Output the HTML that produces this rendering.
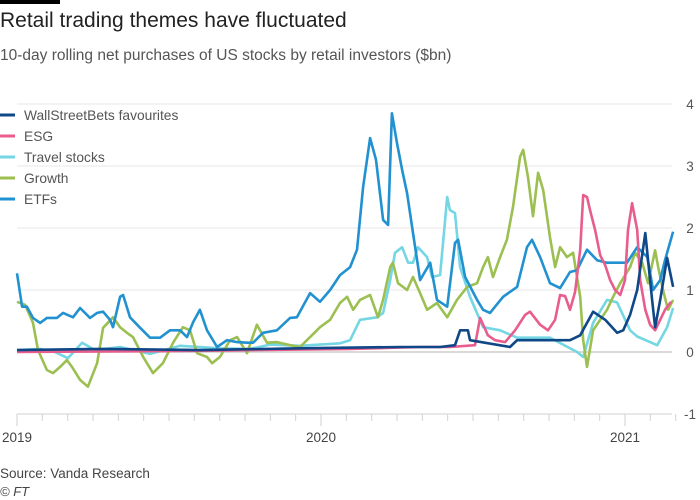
<!DOCTYPE html>
<html><head><meta charset="utf-8">
<style>
body{margin:0;background:#fff;font-family:"Liberation Sans",sans-serif;}
#wrap{position:relative;width:700px;height:500px;overflow:hidden;background:#fff;}
.t{position:absolute;white-space:nowrap;}
</style></head>
<body>
<div id="wrap">
<div style="position:absolute;left:0;top:0;width:60px;height:4px;background:#000"></div>
<div class="t" style="left:0;top:9px;font-size:21px;color:#222">Retail trading themes have fluctuated</div>
<div class="t" style="left:0;top:47px;font-size:15.5px;color:#555">10-day rolling net purchases of US stocks by retail investors ($bn)</div>
<svg id="chart" width="700" height="500" style="position:absolute;left:0;top:0"></svg>
<div class="t" style="left:0;top:466px;font-size:13.5px;color:#444">Source: Vanda Research</div>
<div class="t" style="left:0;top:484px;font-size:13px;color:#444;font-style:italic">© FT</div>
</div>
<script>
// months since Jan 2019, values in $bn
const yTicks=[4,3,2,1,0,-1];
const xYears=["2019","2020","2021"];
const wsbM=[0,3.28,7.22,11.17,15.12,16.7,17.29,17.49,17.8,17.88,19.46,19.74,21.83,22.23,22.74,23.22,23.69,23.93,24.2,24.48,24.8,25.07,25.19,25.39,25.66,25.9];
const wsbV=[0.03,0.05,0.03,0.06,0.08,0.08,0.11,0.35,0.35,0.19,0.08,0.19,0.19,0.27,0.65,0.52,0.31,0.35,0.6,1.0,1.92,0.84,0.4,0.84,1.52,1.05];
const esgM=[0,7.22,13.15,15.91,17.09,18.08,18.28,18.59,18.87,19.27,19.66,20.06,20.25,20.65,20.96,21.24,21.44,21.64,21.83,22.03,22.23,22.35,22.5,22.62,22.82,23.02,23.22,23.41,23.61,23.81,24.0,24.12,24.28,24.48,24.6,24.8,24.99,25.19,25.39,25.58,25.82];
const esgV=[0,0.02,0.05,0.08,0.08,0.11,0.55,0.27,0.19,0.16,0.35,0.6,0.65,0.44,0.35,0.52,0.92,0.9,0.68,0.97,1.65,2.53,2.5,2.29,1.97,1.56,1.4,1.16,1.0,0.92,1.16,1.97,2.4,1.97,1.16,0.68,0.44,0.35,0.52,0.68,0.81];
const travelM=[0,0.91,1.5,2.01,2.57,3.08,4.07,5.25,6.44,8.01,9.2,9.99,11.17,12.75,13.15,13.54,14.21,14.45,14.73,14.92,15.2,15.44,15.63,15.83,16.19,16.38,16.7,16.98,17.09,17.29,17.49,17.88,18.4,19.07,19.74,21.04,22.11,22.35,22.74,23.29,23.69,24.2,24.48,25.27,25.66,25.9];
const travelV=[0.03,0.05,0,-0.1,0.15,0.03,0.08,-0.03,0.1,0.06,0.05,0.12,0.1,0.14,0.19,0.52,0.56,0.63,1.16,1.6,1.69,1.44,1.44,1.69,1.53,1.21,1.24,2.5,2.29,2.24,1.37,0.89,0.4,0.35,0.23,0.23,0,-0.08,0.47,0.84,0.8,0.35,0.25,0.11,0.4,0.71];
const growthM=[0,0.32,0.63,0.83,1.18,1.42,1.7,1.97,2.17,2.49,2.8,3.16,3.4,3.79,4.07,4.34,4.58,4.98,5.37,5.76,6.16,6.55,6.83,7.11,7.5,7.7,8.01,8.41,8.69,9.08,9.47,9.87,10.26,10.78,11.17,11.57,11.96,12.36,12.75,13.03,13.27,13.54,13.94,14.25,14.45,14.73,14.84,15.04,15.4,15.63,15.91,16.19,16.58,16.98,17.37,17.77,18.16,18.4,18.59,18.79,19.07,19.34,19.58,19.86,19.98,20.17,20.37,20.57,20.77,21.04,21.24,21.44,21.71,21.95,22.23,22.35,22.5,22.74,23.02,23.29,23.53,23.81,24.2,24.4,24.68,24.91,25.19,25.31,25.5,25.7,25.9];
const growthV=[0.81,0.76,0.47,0.03,-0.29,-0.34,-0.24,-0.13,-0.24,-0.45,-0.56,-0.18,0.39,0.56,0.4,0.31,0.24,-0.08,-0.34,-0.18,0.15,0.4,0.35,-0.02,-0.08,-0.18,-0.08,0.19,0.24,-0.02,0.44,0.15,0.16,0.11,0.08,0.24,0.4,0.52,0.79,0.89,0.68,0.84,0.92,0.56,0.84,1.37,1.44,1.11,1.0,1.21,0.95,0.68,0.79,0.56,0.84,1.05,1.11,1.37,1.53,1.21,1.53,1.81,2.34,3.15,3.26,2.82,2.19,2.89,2.61,1.85,1.37,1.69,1.53,1.6,0.89,0.19,-0.24,0.35,0.52,0.68,0.89,1.11,1.37,1.6,1.44,1.11,1.64,1.37,1.0,0.68,0.84];
const etfM=[0,0.2,0.39,0.63,0.91,1.18,1.58,1.82,2.21,2.49,2.88,3.16,3.4,3.67,3.79,4.07,4.19,4.46,4.86,5.25,5.65,6.04,6.44,6.71,6.95,7.22,7.5,7.9,8.29,8.69,9.08,9.32,9.71,10.26,10.78,11.05,11.57,11.96,12.36,12.75,13.15,13.42,13.66,13.94,14.17,14.45,14.65,14.8,15.0,15.2,15.4,15.63,15.91,16.31,16.58,16.98,17.29,17.41,17.69,18.16,18.4,18.67,19.19,19.74,20.13,20.33,20.65,21.04,21.44,21.83,22.11,22.5,22.9,23.29,23.69,24.08,24.48,24.88,25.11,25.39,25.58,25.9];
const etfV=[1.27,0.73,0.73,0.55,0.47,0.55,0.55,0.63,0.56,0.71,0.55,0.63,0.65,0.52,0.4,0.89,0.92,0.56,0.39,0.23,0.23,0.35,0.35,0.24,0.48,0.68,0.35,0.08,0.19,0.16,0.15,0.15,0.31,0.35,0.55,0.56,0.95,0.81,1.0,1.24,1.37,1.65,2.66,3.45,3.1,2.13,2.05,3.85,3.37,2.94,2.56,1.92,1.16,1.44,0.84,0.73,1.76,1.81,1.21,0.84,0.68,0.63,0.89,1.05,1.69,1.81,1.53,1.11,1.03,1.29,1.32,1.65,1.48,1.44,1.44,1.44,1.69,1.53,1.0,1.16,1.48,1.94];
const seriesNames=["WallStreetBets favourites","ESG","Travel stocks","Growth","ETFs"];

const NS="http://www.w3.org/2000/svg";
const svg=document.getElementById('chart');
const X0=17, PXM=304/12, Y0=352, PXV=62, XR=672;
function xs(m){return X0+m*PXM;}
function ys(v){return Y0-v*PXV;}
function mk(tag,attrs,parent){const e=document.createElementNS(NS,tag);for(const k in attrs)e.setAttribute(k,attrs[k]);(parent||svg).appendChild(e);return e;}

yTicks.forEach(t=>{
  const g=mk('line',{x1:X0,x2:XR,y1:ys(t),y2:ys(t),stroke:t===-1?'#d6d2cf':(t===0?'#d0ccc8':'#e8e6e4'),'stroke-width':t===0?1.5:1});
  
  
  const tx=mk('text',{x:690,y:ys(t)+5,'text-anchor':'middle','font-size':13.5,fill:'#555','font-family':'Liberation Sans, sans-serif'});
  tx.textContent=t;
  
  
});
for(let m=0;m<=26;m++){
  const yr=m%12===0;
  const tk=mk('line',{x1:xs(m),x2:xs(m),y1:ys(-1),y2:ys(-1)+(yr?12:7),stroke:'#d6d2cf','stroke-width':1});
  
  
}
xYears.forEach((y,i)=>{
  const tx=mk('text',{x:xs(i*12),y:442,'text-anchor':'middle','font-size':13.5,fill:'#444','font-family':'Liberation Sans, sans-serif'});
  tx.textContent=y;
  
  
});
const cols=['#0f4787','#e85d8d','#75d6e4','#9cbf52','#2291cf'];
const data=[[wsbM,wsbV],[esgM,esgV],[travelM,travelV],[growthM,growthV],[etfM,etfV]];
const order=[2,3,4,1,0];
const names=['line-wsb','line-esg','line-travel','line-growth','line-etfs'];
order.forEach(i=>{
  const [M,V]=data[i];
  const d=M.map((m,j)=>(j?'L':'M')+xs(m).toFixed(1)+','+ys(V[j]).toFixed(1)).join('');
  const p=mk('path',{d:d,fill:'none',stroke:cols[i],'stroke-width':2.6,'stroke-linejoin':'round'});
  
  
});
seriesNames.forEach((n,i)=>{
  const y=115+i*21;
  const l=mk('line',{x1:0,x2:15,y1:y,y2:y,stroke:cols[i],'stroke-width':3});
  
  
  const t=mk('text',{x:24,y:y+5,'font-size':13.8,fill:'#555','font-family':'Liberation Sans, sans-serif'});
  t.textContent=n;
  
  
});
</script>
</body></html>
